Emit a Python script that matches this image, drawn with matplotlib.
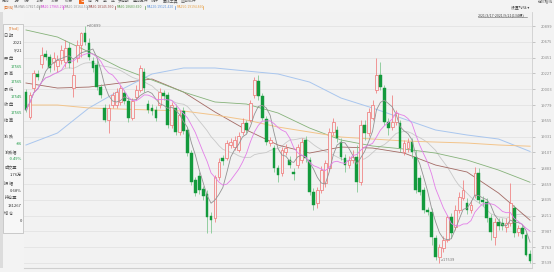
import matplotlib
matplotlib.use('Agg')
import matplotlib.pyplot as plt
import numpy as np
import pandas as pd
from matplotlib.patches import Rectangle
from matplotlib.lines import Line2D

plt.rcParams['font.family'] = ['Noto Sans CJK SC', 'DejaVu Sans']

# ---------------- data ----------------
opens = [19963,19609,20020,20219,20361,20502,20460,20389,20332,20417,
         20389,20587,20020,20446,20630,20800,20658,20403,20346,20034,
         19737,19566,19779,19779,19822,19949,19836,19595,19893,19992,
         20247,19793,19737,19708,19779,19949,19921,19496,19737,19396,
         19694,19425,19098,18716,18772,18588,18517,18205,18177,18758,
         19028,19028,19212,19183,19141,19396,19524,19566,19921,20120,
         19907,19581,19240,19169,18886,18815,19113,18999,18829,18928,
         18999,19283,18999,18545,18390,18574,18673,18886,19396,19425,
         19254,19028,18928,18999,19042,18687,19496,19382,19595,19992,
         20205,20020,19538,19467,19538,19524,19113,19169,19254,19042,
         18744,18574,18290,18262,17893,17624,17751,17865,18191,18049,
         18290,18460,18390,18290,18503,18815,18432,18404,18177,17907,
         18120,18106,18049,18106,18319,17978,18035,17936,17660]
highs = [20006,19963,20275,20275,20602,20559,20502,20531,20488,20630,
         20701,20672,20446,20701,20814,20899,20729,20460,20417,20077,
         19793,19793,19963,20020,20063,19992,19893,19878,20063,20346,
         20304,19850,19793,19765,20020,19992,19963,19822,19793,19708,
         19751,19467,19141,18758,18829,18630,18574,18262,18787,19028,
         19070,19283,19311,19340,19396,19595,19566,19850,20176,20205,
         19949,19623,19325,19212,18928,19183,19226,19056,18886,19226,
         19311,19340,19042,18602,18616,18914,18999,19453,19595,19481,
         19311,19084,19056,19141,19212,19566,19566,19737,19850,20446,
         20389,20063,19595,19921,19708,19566,19283,19311,19311,19141,
         18787,18616,18333,18319,17936,17808,17922,18219,18248,18361,
         18545,18716,18460,18432,18900,18886,18489,18460,18233,18177,
         18177,18177,18177,18673,18361,18077,18092,17978,17723]
lows = [19680,19581,19963,20134,20304,20417,20247,20275,20247,20361,
        20318,20304,19893,20389,20460,20630,20417,20247,19992,19878,
        19538,19382,19737,19737,19779,19793,19538,19566,19850,19963,
        19963,19666,19637,19552,19737,19850,19453,19453,19354,19354,
        19368,19056,18645,18489,18517,18432,17964,17964,18120,18716,
        18928,18999,19169,19141,19113,19354,19382,19538,19878,19850,
        19566,19212,19198,18829,18687,18772,19070,18886,18716,18886,
        18957,18971,18503,18290,18319,18531,18616,18857,19354,19254,
        18999,18829,18886,18957,18545,18645,19283,19340,19566,19949,
        19992,19496,19354,19425,19496,19113,19070,19113,19028,18531,
        18503,18248,18219,17794,17581,17539,17695,17836,17893,18007,
        18248,18432,18233,18248,18460,18390,18347,18120,17865,17794,
        18007,18007,17978,18063,17907,17922,17893,17638,17545]
closes = [19708,19921,20233,20176,20488,20460,20304,20446,20417,20559,
          20587,20375,20205,20630,20800,20672,20460,20304,20034,19921,
          19566,19737,19921,19963,20020,19836,19595,19836,19992,20304,
          20020,19708,19694,19595,19963,19907,19496,19779,19396,19637,
          19410,19098,18687,18531,18574,18489,18191,18148,18758,18971,
          18985,19240,19254,19283,19340,19524,19425,19808,20134,19907,
          19595,19254,19283,18886,18787,19141,19169,18928,18801,19183,
          19254,19028,18545,18361,18574,18857,18957,19396,19538,19311,
          19042,18928,18999,19042,18687,19496,19382,19680,19779,20205,
          20034,19538,19453,19538,19666,19169,19240,19254,19113,18574,
          18545,18290,18262,17907,17624,17765,17865,18191,17964,18290,
          18474,18574,18290,18361,18815,18432,18404,18177,17978,18120,
          18063,18063,18106,18390,17964,18035,17950,17651,17565]

# long moving averages, every 8th bar
ma_idx = [0, 8, 16, 24, 32, 40, 48, 56, 64, 72, 80, 88, 96, 104, 112, 120, 128]
ma30 = [20091,20020,20034,20091,20148,19963,19680,19425,19212,19098,19183,19169,19098,18928,18829,18531,18146]
ma60 = [20843,20743,20531,20304,20134,19963,19822,19793,19666,19453,19283,19198,19155,19098,18999,18857,18684]
ma120 = [19212,19382,19737,19992,20219,20304,20304,20261,20219,20105,19878,19737,19581,19425,19354,19297,19121]
ma250 = [19779,19779,19737,19722,19708,19694,19637,19566,19467,19396,19325,19297,19269,19254,19240,19212,19195]

legend_labels = ["MA:MA5:17827.400", "MA10:17965.200", "MA20:18164.500", "MA30:18145.930",
                 "MA60:18683.650", "MA120:19121.420", "MA250:19194.860"]
y_ticks = [17539, 17763, 17987, 18211, 18435, 18659, 18883, 19107,
           19331, 19555, 19779, 20003, 20227, 20451, 20675, 20899]
panel_rows = [("日 期", ""), ("", "2021"), ("", "9/21"), ("开 盘", ""), ("", "17565"),
              ("最 高", ""), ("", "17565"), ("最 低", ""), ("", "17545"), ("收 盘", ""),
              ("", "17565"), ("结 算", ""), ("", ""), ("涨 跌", ""), ("", "-86"), ("涨跌幅", ""),
              ("", "-0.49%"), ("成交量", ""), ("", "1.76万"), ("振 幅", ""), ("", "0.68%"),
              ("持仓量", ""), ("", "131267"), ("增 仓", ""), ("", "0")]
toolbar = ["分时", "1分", "5分", "15分", "30分", "60分", "日", "周", "月", "季", "年",
           "多周期", "叠加品种", "统计", "画线工具", "区间统计"]

NUMFONT = dict(family=['DejaVu Sans'], fontstretch='condensed')

# ---------------- figure ----------------
W, H = 554, 272
fig = plt.figure(figsize=(W / 100, H / 100), dpi=100)
fig.patch.set_facecolor('#f3f3f3')

def fx(px):
    return px / W

def fy(py):
    return 1 - py / H

ax = fig.add_axes([fx(24), fy(268), fx(532 - 24), (268 - 12) / H])
ax.set_facecolor('#f2f2f2')
n = len(closes)
xs = np.arange(n)
ax.set_xlim(-0.5, n - 0.5)
ax.set_ylim(17468, 21098)

ax.set_yticks(y_ticks)
ax.set_yticklabels([str(v) for v in y_ticks])
ax.yaxis.tick_right()
ax.tick_params(axis='y', length=2.5, width=0.5, color='#b0b0b0', labelsize=2.9,
               labelcolor='#8a8a8a', pad=3.5)
for lab in ax.get_yticklabels():
    lab.set_family(['DejaVu Sans'])
    lab.set_fontstretch('condensed')
ax.set_xticks([])
ax.grid(axis='y', color='#e3e3e3', lw=0.6)
ax.set_axisbelow(True)
for s in ['left', 'top']:
    ax.spines[s].set_visible(False)
ax.spines['right'].set_color('#cfcfcf')
ax.spines['right'].set_linewidth(0.6)
ax.spines['bottom'].set_color('#cfcfcf')
ax.spines['bottom'].set_linewidth(0.8)

up_col = '#f07c7c'
dn_col = '#139a3c'
dn_wick = '#79c48a'
bw = 0.7
for i in range(n):
    o, h, l, c = opens[i], highs[i], lows[i], closes[i]
    if c >= o:
        ax.vlines(i, l, h, color=up_col, lw=0.55, zorder=3)
        ax.add_patch(Rectangle((i - bw / 2, o), bw, max(c - o, 8), facecolor='#f2f2f2',
                               edgecolor=up_col, lw=0.55, zorder=4))
    else:
        ax.vlines(i, l, h, color=dn_wick, lw=0.55, zorder=3)
        ax.add_patch(Rectangle((i - bw / 2, c), bw, max(o - c, 8), facecolor=dn_col,
                               edgecolor=dn_col, lw=0.3, zorder=4))

cs = pd.Series(closes, dtype=float)
ma5 = cs.rolling(5, min_periods=1).mean()
ma10 = cs.rolling(10, min_periods=1).mean()
ma20 = cs.rolling(20, min_periods=1).mean()

line_cols = ['#939393', '#e37ee8', '#c8c8c8', '#a36a64', '#86b27a', '#a9c6ee', '#f2c48a']
ax.plot(xs, ma5, color=line_cols[0], lw=0.6, zorder=5)
ax.plot(xs, ma10, color=line_cols[1], lw=0.6, zorder=5)
ax.plot(xs, ma20, color=line_cols[2], lw=0.6, zorder=2)
ax.plot(ma_idx, ma30, color=line_cols[3], lw=0.6, zorder=2)
ax.plot(ma_idx, ma60, color=line_cols[4], lw=0.6, zorder=2)
ax.plot(ma_idx, ma120, color=line_cols[5], lw=0.7, zorder=2)
ax.plot(ma_idx, ma250, color=line_cols[6], lw=0.7, zorder=2)

imax = int(np.argmax(highs))
imin = int(np.argmin(lows))
ax.annotate("←" + str(max(highs)), (imax, max(highs)), xytext=(1.5, 0), textcoords='offset points',
            fontsize=2.9, color='#777777', va='center', ha='left', **NUMFONT)
ax.annotate("↙" + str(min(lows)), (imin, min(lows)), xytext=(1.0, 2.5), textcoords='offset points',
            fontsize=2.9, color='#777777', va='center', ha='left', **NUMFONT)

# ---------------- legend row ----------------
fig.text(fx(4), fy(7.5), "[日线]", fontsize=2.8, color='#e26a1c', va='center', ha='left')
leg_x = [14, 41, 65, 89, 117, 147, 177]
leg_cols = ['#8a8a8a', '#d94fd9', '#9a9a9a', '#9a4f4a', '#5b9a4e', '#5f95dd', '#e8a24a']
for xp, lab, col in zip(leg_x, legend_labels, leg_cols):
    fig.text(fx(xp), fy(7.5), lab, fontsize=2.35, color=col, va='center', ha='left', **NUMFONT)
nxt = leg_x[1:] + [205]
for xe, col in zip(nxt, leg_cols):
    fig.lines.append(Line2D([fx(xe - 2), fx(xe - 2)], [fy(6), fy(9)], transform=fig.transFigure,
                            color=col, lw=0.5))

# toolbar (partially clipped)
tx = 2
for t in toolbar:
    col = '#ffffff' if t == "日" else '#555555'
    bbox = dict(boxstyle='square,pad=0.15', fc='#f26b1d', ec='none') if t == "日" else None
    fig.text(fx(tx), fy(1.2), t, fontsize=2.8, color=col, va='center', ha='left', bbox=bbox)
    tx += 4 + 3.6 * len(t)

fig.text(fx(511), fy(7.5), "设置均线 ▾", fontsize=2.8, color='#444444', va='center', ha='left')
fig.text(fx(478), fy(15), "2021/3/17-2021/9/21(134根)", fontsize=2.6, color='#444444',
         va='center', ha='left')
fig.lines.append(Line2D([fx(478), fx(527)], [fy(17.3), fy(17.3)], transform=fig.transFigure,
                        color='#666666', lw=0.4))
fig.text(fx(538), fy(1.5), "在价格线", fontsize=2.7, color='#555555', va='center', ha='left')

# ---------------- left info panel ----------------
fig.patches.append(Rectangle((0, fy(268)), fx(3), 256 / H, transform=fig.transFigure,
                             facecolor='#dcdcdc', edgecolor='none', zorder=1))
fig.patches.append(Rectangle((fx(3), fy(233)), fx(20), (233 - 24) / H, transform=fig.transFigure,
                             facecolor='#f7f7f7', edgecolor='#b8b8b8', lw=0.5, zorder=6))
fig.text(fx(9), fy(28), "[Tfxd]", fontsize=2.8, color='#e07a2e', va='center', ha='left', zorder=7)
py = 35.5
for lab, val in panel_rows:
    if lab:
        fig.text(fx(4.5), fy(py), lab, fontsize=3.0, color='#555555', va='center', ha='left', zorder=7)
    if val:
        if val.startswith('17') or val.startswith('-'):
            col = '#1f9a45'
        else:
            col = '#333333'
        fig.text(fx(22), fy(py), val, fontsize=3.0, color=col, va='center', ha='right', zorder=7)
    py += 7.75

fig.savefig('out.png', dpi=100, facecolor=fig.get_facecolor())
